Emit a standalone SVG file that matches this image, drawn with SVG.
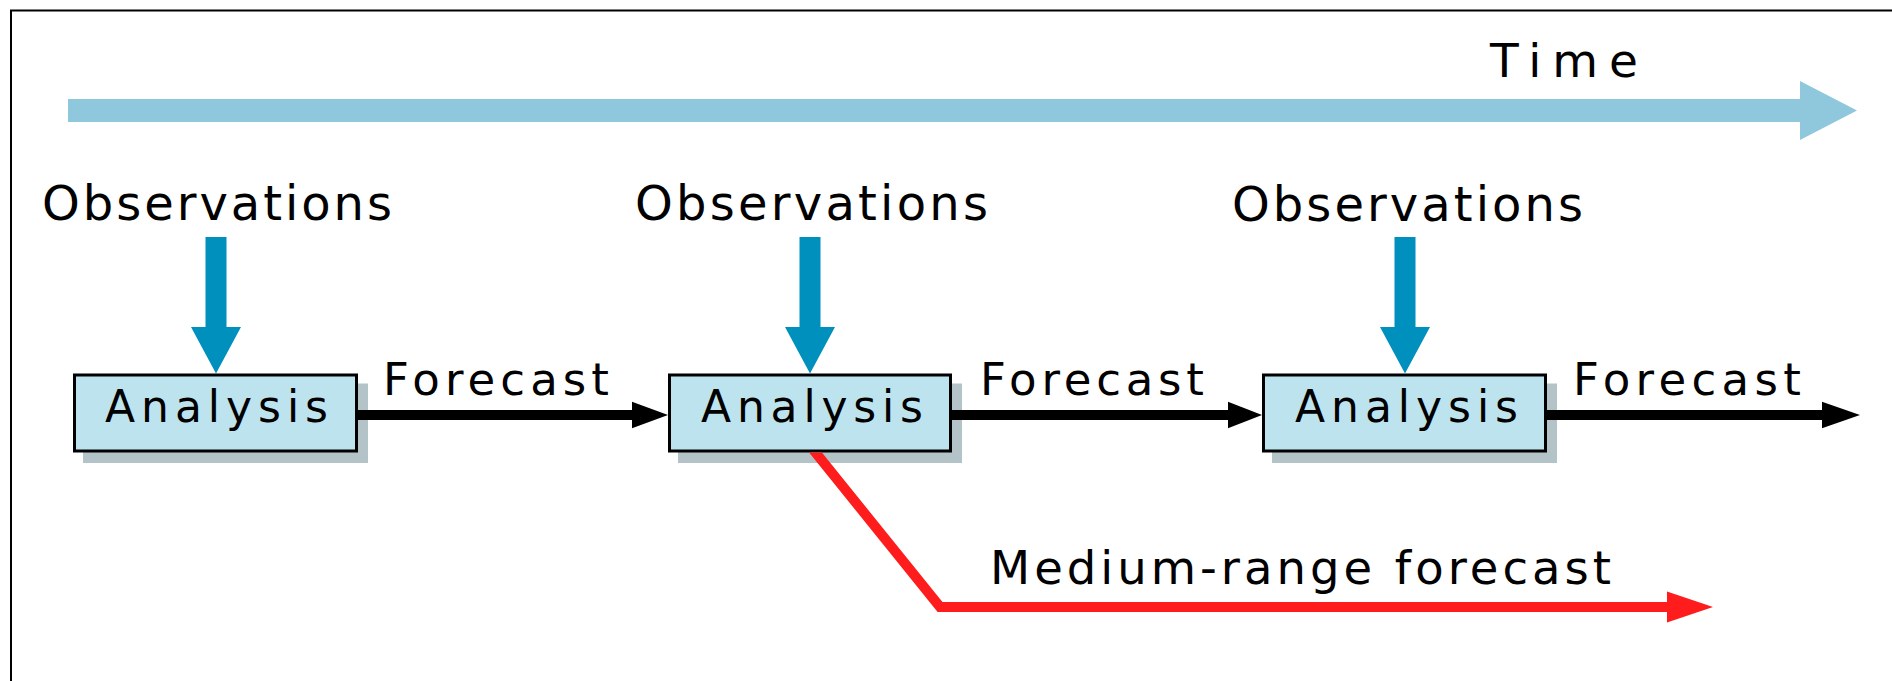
<svg xmlns="http://www.w3.org/2000/svg" width="1892" height="681" viewBox="0 0 1892 681">
  <style>
    .lbl { font-family: "DejaVu Sans", "Liberation Sans", Arial, sans-serif; fill: #000; }
    .obs { font-size: 48px; }
    .ana { font-size: 44px; }
    .fc { font-size: 45px; }
    .box { fill: #bde4ee; stroke: #000; stroke-width: 3; }
    .shadow { fill: #b3c3c7; }
    .obsarrow { fill: #0090bd; }
    .shaft { stroke: #000; stroke-width: 10; fill: none; }
    .head { fill: #000; }
    .red { stroke: #ff1c1c; stroke-width: 10; fill: none; stroke-linejoin: miter; }
    .redhead { fill: #ff1c1c; }
  </style>
  <defs>
    <clipPath id="belowBox2">
      <rect x="0" y="452.5" width="1892" height="228.5"/>
    </clipPath>
  </defs>
  <rect x="0" y="0" width="1892" height="681" fill="#fff"/>
  <path d="M11,681 V10.5 H1892" fill="none" stroke="#000" stroke-width="2"/>

  <g id="time">
    <polygon points="68,99 1800,99 1800,81 1857,110.5 1800,140 1800,122 68,122" fill="#8fc7dd"/>
    <text class="lbl" x="1490" y="77" font-size="47" textLength="148">Time</text>
  </g>

  <g id="obs1">
    <text class="lbl obs" x="42" y="220" textLength="350">Observations</text>
    <polygon class="obsarrow" points="205.5,237 226.5,237 226.5,327 241,327 216,373.5 191,327 205.5,327"/>
  </g>
  <g id="obs2">
    <text class="lbl obs" x="635" y="220" textLength="353">Observations</text>
    <polygon class="obsarrow" points="799.5,237 820.5,237 820.5,327 835,327 810,373.5 785,327 799.5,327"/>
  </g>
  <g id="obs3">
    <text class="lbl obs" x="1232" y="220.5" textLength="351">Observations</text>
    <polygon class="obsarrow" points="1394.5,237 1415.5,237 1415.5,327 1430,327 1405,373.5 1380,327 1394.5,327"/>
  </g>

  <g id="analysis1">
    <rect class="shadow" x="83" y="383.5" width="285" height="79.5"/>
    <rect class="box" x="74.5" y="375" width="282" height="76"/>
    <text class="lbl ana" x="105" y="422" textLength="223">Analysis</text>
  </g>
  <g id="analysis2">
    <rect class="shadow" x="678" y="383.5" width="284" height="79.5"/>
    <rect class="box" x="669.5" y="375" width="281" height="76"/>
    <text class="lbl ana" x="701" y="422" textLength="222">Analysis</text>
  </g>
  <g id="analysis3">
    <rect class="shadow" x="1272" y="383.5" width="285" height="79.5"/>
    <rect class="box" x="1263.5" y="375" width="282" height="76"/>
    <text class="lbl ana" x="1295" y="422" textLength="223">Analysis</text>
  </g>

  <g id="connectors">
    <path class="shaft" d="M358,415 H634"/>
    <polygon class="head" points="632,401.7 668,415 632,428.3"/>
    <text class="lbl fc" x="383" y="395" textLength="226">Forecast</text>

    <path class="shaft" d="M952,415 H1230"/>
    <polygon class="head" points="1228,401.7 1262,415 1228,428.3"/>
    <text class="lbl fc" x="980" y="394.5" textLength="224">Forecast</text>

    <path class="shaft" d="M1547,415 H1824"/>
    <polygon class="head" points="1822,401.7 1860,415 1822,428.3"/>
    <text class="lbl fc" x="1573" y="395" textLength="228">Forecast</text>

    <path class="red" clip-path="url(#belowBox2)" d="M803,437 L940,607 H1669"/>
    <polygon class="redhead" points="1667,591.5 1713,607 1667,622.5"/>
    <text class="lbl" x="990" y="584" font-size="46.5" textLength="621">Medium-range forecast</text>
  </g>
</svg>
